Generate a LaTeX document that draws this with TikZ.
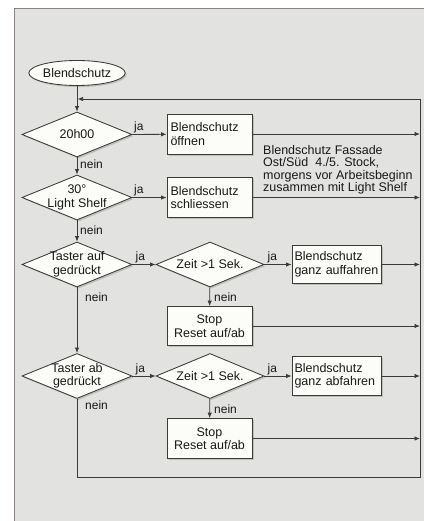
\documentclass[tikz,border=0pt]{standalone}
\usepackage{fontspec}
\setmainfont{Liberation Sans}
\usetikzlibrary{shapes.geometric,arrows.meta,shadows}
\definecolor{panel}{HTML}{E2E2E0}
\definecolor{pborder}{HTML}{8A8282}
\definecolor{ln}{HTML}{3A3A3A}
\definecolor{boxfill}{HTML}{FCFCF9}
\tikzset{
  every node/.style={font=\fontsize{12.5}{13.5}\selectfont, text=black!90},
  conn/.style={draw=ln, line width=0.85pt},
  arr/.style={conn, -{Latex[length=5.5pt,width=4.5pt]}},
  shad/.style={drop shadow={opacity=0.35, shadow xshift=1.6pt, shadow yshift=-1.6pt}},
  procbox/.style={draw=ln, line width=0.85pt, fill=boxfill, shad, rectangle, inner sep=0pt},
  decide/.style={draw=ln, line width=0.85pt, fill=boxfill, shad, diamond, inner sep=0pt, minimum width=110pt, minimum height=45pt},
  startnode/.style={draw=ln, line width=0.85pt, fill=boxfill, shad, ellipse, inner sep=0pt, minimum width=95pt, minimum height=25pt},
  lbl/.style={inner sep=1pt, font=\fontsize{12}{12.5}\selectfont},
  dtext/.style={align=center, inner sep=0pt},
}
\begin{document}
\begin{tikzpicture}[x=1pt,y=-1pt]
\useasboundingbox (0,0) rectangle (423,521);
\fill[white] (0,0) rectangle (423,521);
\draw[pborder, fill=panel, line width=1pt] (14.5,8.5) rectangle (440,540);

% start
\node[startnode] (start) at (77,73) {Blendschutz};

% decisions
\node[decide] (d1) at (77,134.5) {};
\node[dtext] (d1t) at (d1.center) {20h00};
\node[decide] (d2) at (77,197.5) {};
\node[dtext] (d2t) at (d2.center) {30°\\Light Shelf};
\node[decide] (d3) at (77,264.5) {};
\node[dtext] (d3t) at (d3.center) {Taster auf\\gedrückt};
\node[decide, minimum width=108pt] (d4) at (210,264.5) {};
\node[dtext] (d4t) at (d4.center) {Zeit >1 Sek.};
\node[decide] (d5) at (77,376) {};
\node[dtext] (d5t) at (d5.center) {Taster ab\\gedrückt};
\node[decide, minimum width=108pt] (d6) at (210,376) {};
\node[dtext] (d6t) at (d6.center) {Zeit >1 Sek.};

% boxes
\node[procbox, minimum width=85pt, minimum height=40pt, align=left, text width=78pt] (b1) at (209.5,134) {Blendschutz\\öffnen};
\node[procbox, minimum width=85pt, minimum height=40pt, align=left, text width=78pt] (b2) at (209.5,197.5) {Blendschutz\\schliessen};
\node[procbox, minimum width=89pt, minimum height=38pt, align=left, text width=84pt] (b3) at (336.5,264.5) {Blendschutz\\ganz auffahren};
\node[procbox, minimum width=85pt, minimum height=39pt, align=center] (b4) at (209.5,326) {Stop\\Reset auf/ab};
\node[procbox, minimum width=89pt, minimum height=39pt, align=left, text width=84pt] (b5) at (336.5,376) {Blendschutz\\ganz abfahren};
\node[procbox, minimum width=85pt, minimum height=40pt, align=center] (b6) at (209.5,438.5) {Stop\\Reset auf/ab};

% annotation
\node[anchor=north west, align=left, inner sep=0pt, font=\fontsize{12.5}{12.2}\selectfont] (note) at (263,145.5) {Blendschutz Fassade\\Ost/Süd\ \ 4./5. Stock,\\morgens vor Arbeitsbeginn\\zusammen mit Light Shelf};

% right collector coordinates
\coordinate (r1) at (420,134);
\coordinate (r2) at (420,197.5);
\coordinate (r3) at (420,264.5);
\coordinate (r4) at (420,326);
\coordinate (r5) at (420,376);
\coordinate (r6) at (420,438.5);
\coordinate (loopb) at (77,477);
\coordinate (loopbr) at (420,477);
\coordinate (looptr) at (420,99);
\coordinate (loopend) at (77.6,99);

% connectors
\draw[arr] (start) -- (d1);
\draw[arr] (d1.east) -- (b1);
\draw[arr] (b1) -- (r1);
\draw[arr] (d1) -- (d2);
\draw[arr] (d2.east) -- (b2);
\draw[arr] (b2) -- (r2);
\draw[arr] (d2) -- (d3);
\draw[arr] (d3.east) -- (d4.west);
\draw[arr] (d4.east) -- (b3);
\draw[arr] (b3) -- (r3);
\draw[arr] (d4) -- (b4);
\draw[arr] (b4) -- (r4);
\draw[arr] (d3) -- (d5);
\draw[arr] (d5.east) -- (d6.west);
\draw[arr] (d6.east) -- (b5);
\draw[arr] (b5) -- (r5);
\draw[arr] (d6) -- (b6);
\draw[arr] (b6) -- (r6);
\draw[arr] (d5.south) -- (loopb) -- (loopbr) -- (looptr) -- (loopend);

% labels
\node[lbl, anchor=south west] (j1) at ([xshift=0.5pt]d1.east) {ja};
\node[lbl, anchor=west] (n1) at (79,164) {nein};
\node[lbl, anchor=south west] (j2) at ([xshift=0.5pt]d2.east) {ja};
\node[lbl, anchor=west] (n2) at (79,230) {nein};
\node[lbl, anchor=south west] (j3) at ([xshift=2pt]d3.east) {ja};
\node[lbl, anchor=south west] (j4) at ([xshift=2pt]d4.east) {ja};
\node[lbl, anchor=west] (n3) at (84,297) {nein};
\node[lbl, anchor=west] (n4) at (213,297) {nein};
\node[lbl, anchor=south west] (j5) at ([xshift=2pt]d5.east) {ja};
\node[lbl, anchor=south west] (j6) at ([xshift=2pt]d6.east) {ja};
\node[lbl, anchor=west] (n5) at (84,405) {nein};
\node[lbl, anchor=west] (n6) at (213,409) {nein};
\end{tikzpicture}
\end{document}
